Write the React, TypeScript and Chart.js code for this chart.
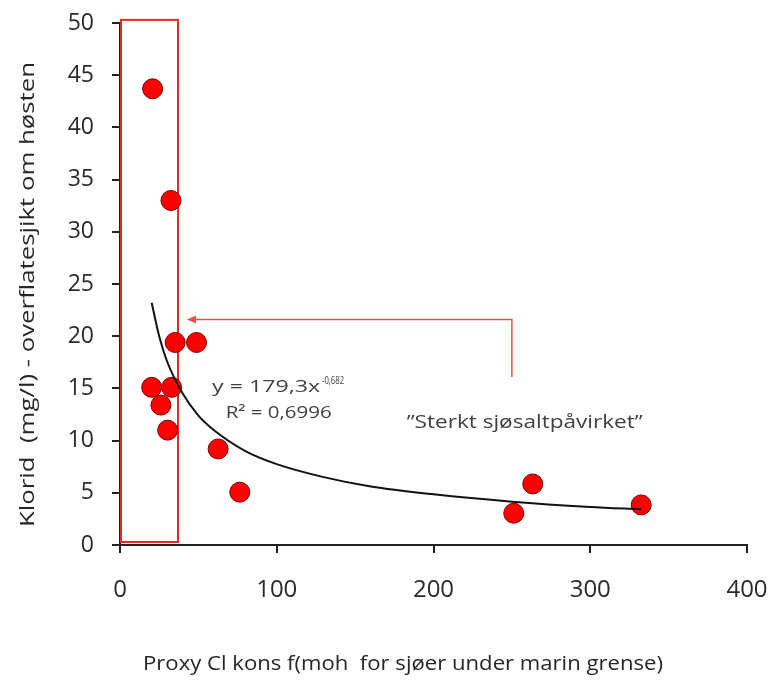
import React, { useEffect, useRef } from "react";
import { Chart, registerables } from "chart.js";

Chart.register(...registerables);

// Observations (x: proxy Cl, y: klorid mg/l)
const pointX = [20.8, 32.5, 35.2, 48.8, 20.2, 32.9, 26.1, 30.4, 62.6, 76.4, 263.3, 251.2, 332.5];
const pointY = [43.7, 33.0, 19.4, 19.4, 15.1, 15.1, 13.4, 11.0, 9.2, 5.06, 5.85, 3.04, 3.84];

// Power trendline
const trendX = [20.2, 25, 30, 40, 50, 60, 80, 100, 130, 160, 200, 250, 300, 332.5];
const trendY = [23.2, 20.0, 17.6, 14.5, 12.4, 11.0, 9.0, 7.75, 6.5, 5.6, 4.85, 4.15, 3.65, 3.42];

const xTicks = [0, 100, 200, 300, 400];
const yTicks = [0, 5, 10, 15, 20, 25, 30, 35, 40, 45, 50];

// Annotation anchors (data units)
const boxX = [0, 37];
const boxY = [0, 50.3];
const arrowX = [250, 42.7];
const arrowY = [16.1, 21.6];

const xTitle = "Proxy Cl kons f(moh  for sjøer under marin grense)";
const yTitle = "Klorid  (mg/l) - overflatesjikt om høsten";
const eqMain = "y = 179,3x";
const eqExp = "-0,682";
const r2Text = "R² = 0,6996";
const noteText = "\u201DSterkt sjøsaltpåvirket\u201D";

const FONT = "'Open Sans', 'DejaVu Sans', sans-serif";

function stretchText(ctx: any, text: string, x: number, y: number, size: number, width: number) {
  ctx.font = `${size}px ${FONT}`;
  const w = ctx.measureText(text).width;
  ctx.save();
  ctx.translate(x, y);
  ctx.scale(width / w, 1);
  ctx.fillText(text, 0, 0);
  ctx.restore();
}

const overlay = {
  id: "overlay",
  beforeDatasetsDraw(chart: any) {
    const { ctx, scales } = chart;
    const xs = scales.x;
    const ys = scales.y;
    ctx.save();
    // red rectangle
    ctx.strokeStyle = "#E02A2C";
    ctx.lineWidth = 2;
    const x0 = xs.getPixelForValue(boxX[0]);
    const x1 = xs.getPixelForValue(boxX[1]);
    const y0 = ys.getPixelForValue(boxY[0]);
    const y1 = ys.getPixelForValue(boxY[1]);
    ctx.strokeRect(x0 + 1, y1, x1 - x0 - 1, y0 - y1 - 3);
    // arrow
    ctx.strokeStyle = "#E8504A";
    ctx.fillStyle = "#E8504A";
    ctx.lineWidth = 1.5;
    const ax0 = xs.getPixelForValue(arrowX[0]);
    const ax1 = xs.getPixelForValue(arrowX[1]);
    const ay0 = ys.getPixelForValue(arrowY[0]);
    const ay1 = ys.getPixelForValue(arrowY[1]);
    ctx.beginPath();
    ctx.moveTo(ax0, ay0);
    ctx.lineTo(ax0, ay1);
    ctx.lineTo(ax1 + 6, ay1);
    ctx.stroke();
    ctx.beginPath();
    ctx.moveTo(ax1, ay1);
    ctx.lineTo(ax1 + 9, ay1 - 4);
    ctx.lineTo(ax1 + 9, ay1 + 4);
    ctx.closePath();
    ctx.fill();
    ctx.restore();
  },
  afterDatasetsDraw(chart: any) {
    const { ctx, scales } = chart;
    const xs = scales.x;
    const ys = scales.y;
    ctx.save();
    ctx.fillStyle = "#404040";
    ctx.textBaseline = "alphabetic";
    ctx.textAlign = "left";
    const ex = xs.getPixelForValue(58.7);
    const ey = ys.getPixelForValue(14.66);
    stretchText(ctx, eqMain, ex, ey, 17, 108);
    stretchText(ctx, eqExp, ex + 110, ey - 8, 10, 22);
    stretchText(ctx, r2Text, xs.getPixelForValue(67.4), ys.getPixelForValue(12.16), 17, 106);
    stretchText(ctx, noteText, xs.getPixelForValue(182.9), ys.getPixelForValue(11.2), 18, 236);
    ctx.restore();
  },
  afterDraw(chart: any) {
    const { ctx } = chart;
    ctx.save();
    ctx.fillStyle = "#262626";
    ctx.textAlign = "left";
    ctx.textBaseline = "alphabetic";
    stretchText(ctx, xTitle, 143, 670, 20, 520);
    ctx.translate(34, 527);
    ctx.rotate(-Math.PI / 2);
    stretchText(ctx, yTitle, 0, 0, 20, 465);
    ctx.restore();
  },
};

export default function App() {
  const ref = useRef<HTMLCanvasElement>(null);
  useEffect(() => {
    document.body.style.margin = "0";
    const canvas = ref.current!;
    const chart = new Chart(canvas, {
      type: "scatter",
      data: {
        datasets: [
          {
            label: "trend",
            data: trendX.map((x, i) => ({ x, y: trendY[i] })),
            showLine: true,
            borderColor: "#111",
            borderWidth: 2,
            pointRadius: 0,
            cubicInterpolationMode: "monotone",
            fill: false,
          } as any,
          {
            label: "obs",
            data: pointX.map((x, i) => ({ x, y: pointY[i] })),
            backgroundColor: "#FF0000",
            borderColor: "#7A0000",
            borderWidth: 1,
            pointRadius: 10,
            pointHoverRadius: 10,
          },
        ],
      },
      options: {
        responsive: false,
        animation: false,
        events: [],
        layout: { padding: { top: 23, right: 26, left: 0, bottom: 0 } },
        plugins: { legend: { display: false }, tooltip: { enabled: false } },
        scales: {
          x: {
            type: "linear",
            min: 0,
            max: 400,
            afterBuildTicks: (s: any) => {
              s.ticks = xTicks.map((v) => ({ value: v }));
            },
            afterFit: (s: any) => {
              s.height = 135;
              s.paddingLeft = 0;
              s.paddingRight = 0;
            },
            ticks: {
              font: { size: 24, family: FONT },
              color: "#2a2a2a",
              padding: 23,
              maxRotation: 0,
            },
            grid: {
              drawOnChartArea: false,
              drawTicks: true,
              tickLength: 8,
              color: "#222",
              lineWidth: 2,
            },
            border: { display: true, color: "#222", width: 2 },
          },
          y: {
            type: "linear",
            min: 0,
            max: 50,
            afterBuildTicks: (s: any) => {
              s.ticks = yTicks.map((v) => ({ value: v }));
            },
            afterFit: (s: any) => {
              s.width = 120;
              s.paddingTop = 0;
              s.paddingBottom = 0;
            },
            ticks: {
              font: { size: 23, family: FONT },
              color: "#2a2a2a",
              padding: 18,
            },
            grid: {
              drawOnChartArea: false,
              drawTicks: true,
              tickLength: 8,
              color: "#222",
              lineWidth: 2,
            },
            border: { display: true, color: "#222", width: 2 },
          },
        },
      },
      plugins: [overlay],
    });
    return () => chart.destroy();
  }, []);
  return (
    <div style={{ width: 773, height: 680, background: "#fff" }}>
      <canvas ref={ref} width={773} height={680} style={{ display: "block" }} />
    </div>
  );
}
